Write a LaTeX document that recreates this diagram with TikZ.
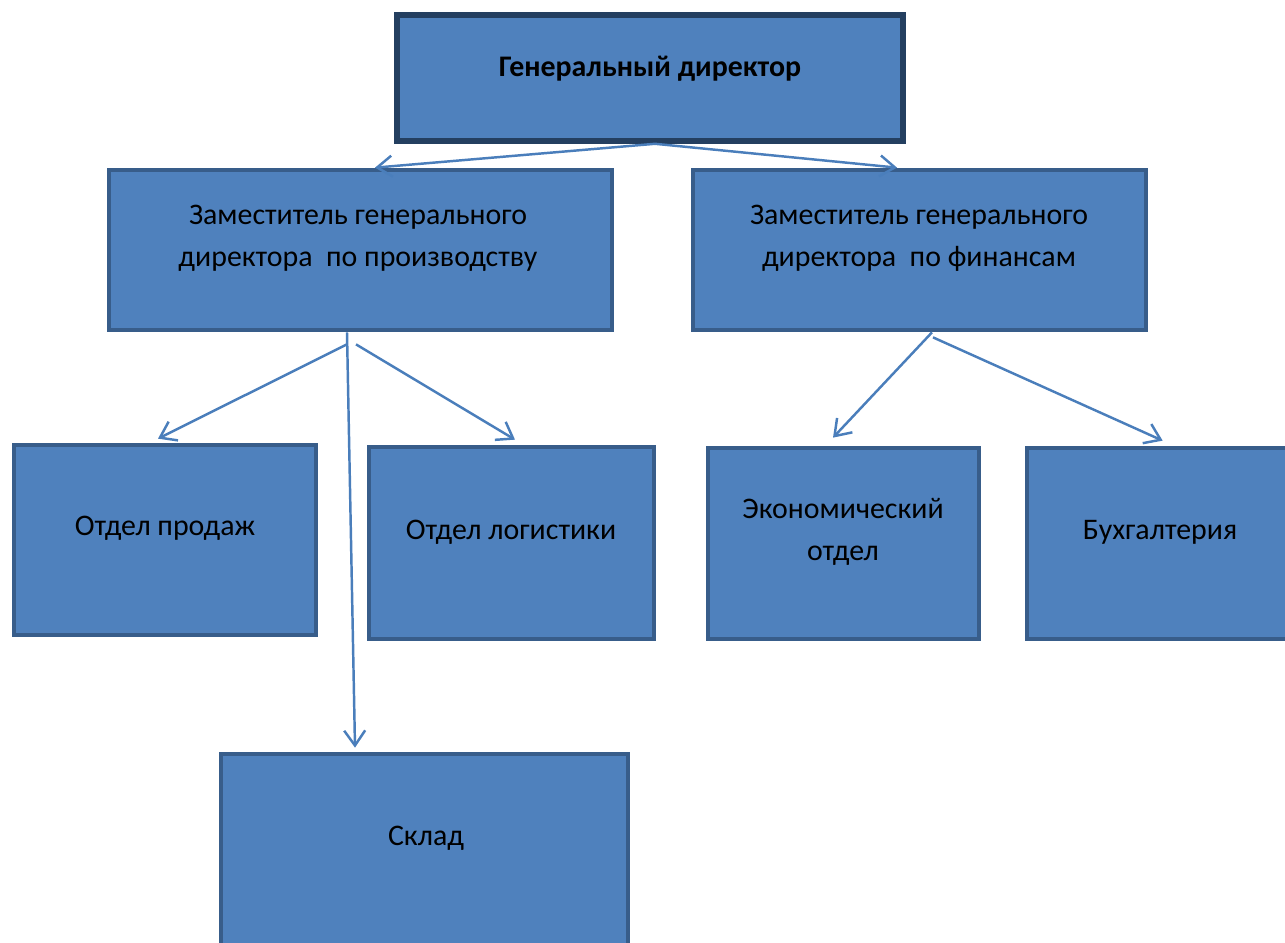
\documentclass[tikz,border=0pt]{standalone}
\usepackage{fontspec}
\setmainfont{Carlito}
\usepackage{tikz}
\usetikzlibrary{arrows.meta, positioning}
\definecolor{boxblue}{RGB}{79,129,189}
\definecolor{boxedge}{RGB}{56,93,138}
\definecolor{topedge}{RGB}{36,63,96}
\definecolor{linkblue}{RGB}{74,126,187}

\begin{document}
\begin{tikzpicture}[
    x=0.02cm, y=-0.02cm,
    unit/.style={draw=boxedge, fill=boxblue, line width=2.7pt, inner sep=0pt},
    caption/.style={font=\fontsize{17}{24}\selectfont, align=center, inner sep=0pt},
    link/.style={draw=linkblue, line width=1.4pt, -{Straight Barb[length=0.3cm, width=0.42cm]}}
]
    \useasboundingbox (0,0) rectangle (1285,943);

    % boxes
    \node[unit, draw=topedge, line width=3.2pt, minimum width=10.12cm, minimum height=2.52cm] (gd) at (650,78) {};
    \node[unit, minimum width=10.06cm, minimum height=3.2cm] (dprod) at (360.5,250) {};
    \node[unit, minimum width=9.06cm, minimum height=3.2cm] (dfin) at (919.5,250) {};
    \node[unit, minimum width=6.04cm, minimum height=3.8cm] (sales) at (165,540) {};
    \node[unit, minimum width=5.7cm, minimum height=3.84cm] (logist) at (511.5,543) {};
    \node[unit, minimum width=5.42cm, minimum height=3.82cm] (econ) at (843.5,543.5) {};
    \node[unit, minimum width=6.06cm, minimum height=3.82cm] (acc) at (1178.5,543.5) {};
    \node[unit, minimum width=8.14cm, minimum height=5.92cm] (store) at (424.5,902) {};

    % texts
    \node[caption, font=\fontsize{17}{24}\selectfont\bfseries] (gd-t) at (650,69) {Генеральный директор};
    \node[caption] (dprod-t) at (358,238) {Заместитель генерального\\директора\ \ по производству};
    \node[caption] (dfin-t) at (919,238) {Заместитель генерального\\директора\ \ по финансам};
    \node[caption] (sales-t) at (165,528) {Отдел продаж};
    \node[caption] (logist-t) at (511,532) {Отдел логистики};
    \node[caption] (econ-t) at (843,532) {Экономический\\отдел};
    \node[caption] (acc-t) at (1160,532) {Бухгалтерия};
    \node[caption] (store-t) at (426,838) {Склад};

    % connectors
    \draw[link] ([xshift=0.1cm]gd.south) -- ([xshift=0.29cm]dprod.north);
    \draw[link] ([xshift=0.1cm]gd.south) -- ([xshift=-0.45cm]dfin.north);
    \draw[link] ([xshift=-0.27cm]dprod.south) -- ([xshift=-1.39cm, yshift=0.08cm]store.north);
    \draw[link] ([xshift=-0.27cm, yshift=-0.24cm]dprod.south) -- ([xshift=-0.14cm, yshift=0.08cm]sales.north);
    \draw[link] ([xshift=-0.09cm, yshift=-0.24cm]dprod.south) -- ([xshift=0.07cm, yshift=0.1cm]logist.north);
    \draw[link] ([xshift=0.25cm]dfin.south) -- ([xshift=-0.21cm, yshift=0.16cm]econ.north);
    \draw[link] ([xshift=0.27cm, yshift=-0.1cm]dfin.south) -- ([xshift=2.76cm, yshift=0.1cm]acc.north west);
\end{tikzpicture}
\end{document}
